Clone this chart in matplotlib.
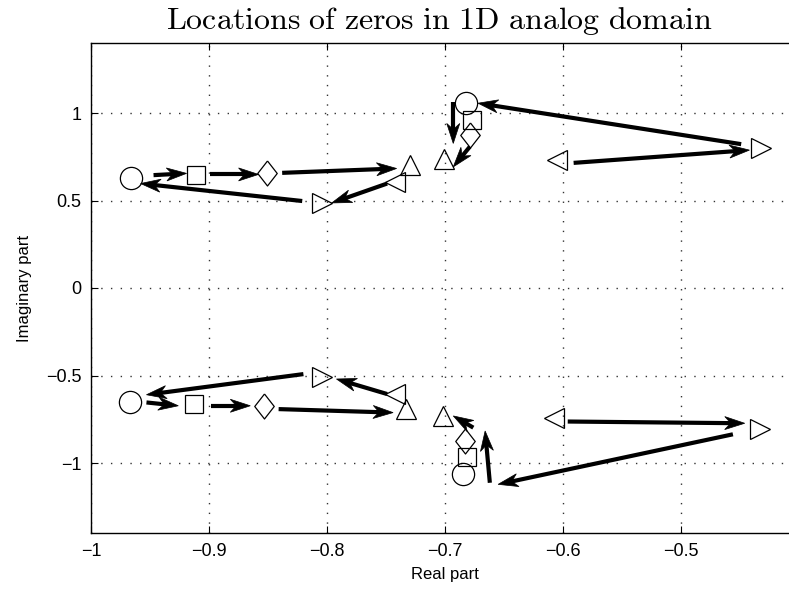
import matplotlib
matplotlib.use("Agg")
import matplotlib.pyplot as plt
import numpy as np
from matplotlib.patches import Polygon

plt.rcParams['font.family'] = ['Liberation Sans', 'DejaVu Sans']
plt.rcParams['mathtext.fontset'] = 'cm'

# ---- data: zero locations (real, imag) ----
shapes = ['o', 's', 'D', '^', '<', '>']
# upper half, group A
upA_re = [-0.966, -0.911, -0.851, -0.730, -0.742, -0.804]
upA_im = [0.626, 0.645, 0.658, 0.702, 0.603, 0.486]
# upper half, group B
upB_re = [-0.682, -0.677, -0.679, -0.701, -0.605, -0.432]
upB_im = [1.056, 0.960, 0.874, 0.735, 0.729, 0.800]
# lower half, group A
loA_re = [-0.967, -0.913, -0.853, -0.733, -0.742, -0.804]
loA_im = [-0.649, -0.664, -0.673, -0.692, -0.606, -0.507]
# lower half, group B
loB_re = [-0.685, -0.681, -0.683, -0.702, -0.608, -0.433]
loB_im = [-1.065, -0.966, -0.874, -0.731, -0.740, -0.807]

# arrows: start (x0, y0) -> tip (x1, y1)
arrows_x0 = [-0.947, -0.899, -0.838, -0.749, -0.821, -0.591, -0.449, -0.693, -0.679,
             -0.820, -0.953, -0.898, -0.841, -0.749, -0.676, -0.662, -0.456, -0.596]
arrows_y0 = [0.645, 0.649, 0.658, 0.597, 0.497, 0.715, 0.822, 1.065, 0.807,
             -0.492, -0.654, -0.673, -0.692, -0.606, -0.798, -1.113, -0.836, -0.763]
arrows_x1 = [-0.919, -0.858, -0.741, -0.796, -0.958, -0.442, -0.672, -0.693, -0.693,
             -0.953, -0.926, -0.865, -0.744, -0.792, -0.693, -0.666, -0.655, -0.446]
arrows_y1 = [0.655, 0.649, 0.683, 0.486, 0.597, 0.788, 1.056, 0.826, 0.692,
             -0.610, -0.673, -0.673, -0.712, -0.520, -0.731, -0.817, -1.122, -0.773]

xticks = [-1, -0.9, -0.8, -0.7, -0.6, -0.5]
xticklabels = ['\u22121', '\u22120.9', '\u22120.8', '\u22120.7', '\u22120.6', '\u22120.5']
yticks = [-1, -0.5, 0, 0.5, 1]
yticklabels = ['\u22121', '\u22120.5', '0', '0.5', '1']

fig = plt.figure(figsize=(7.89, 5.90), dpi=100)
ax = fig.add_axes([91/789, 1-533/590, (799-91)/789, (533-43)/590])
ax.set_xlim(-1, -0.4)
ax.set_ylim(-1.4, 1.4)

sizes = {'o': 16, 's': 12.5, '^': 15, '<': 15, '>': 15}
diamond = [(0, 1), (0.78, 0), (0, -1), (-0.78, 0), (0, 1)]

for re_list, im_list in [(upA_re, upA_im), (upB_re, upB_im), (loA_re, loA_im), (loB_re, loB_im)]:
    for m, xr, yi in zip(shapes, re_list, im_list):
        mk = diamond if m == 'D' else m
        ms = 18 if m == 'D' else sizes[m]
        ax.plot([xr], [yi], linestyle='none', marker=mk, markersize=ms,
                markerfacecolor='none', markeredgecolor='black', markeredgewidth=0.9, zorder=3)

# stealth-style arrows, head geometry in pixels
HEAD_L, HEAD_W, NOTCH = 20.0, 6.5, 6.0
inv = ax.transData.inverted()
for x0, y0, x1, y1 in zip(arrows_x0, arrows_y0, arrows_x1, arrows_y1):
    p0 = ax.transData.transform((x0, y0))
    p1 = ax.transData.transform((x1, y1))
    d = p1 - p0
    u = d / np.hypot(*d)
    n = np.array([-u[1], u[0]])
    back = p1 - HEAD_L * u
    notch = p1 - (HEAD_L - NOTCH) * u
    head_px = np.array([p1, back + HEAD_W * n, notch, back - HEAD_W * n])
    head = inv.transform(head_px)
    shaft_end = inv.transform(notch + 1.0 * u)
    ax.plot([x0, shaft_end[0]], [y0, shaft_end[1]], color='black', lw=3.0,
            solid_capstyle='butt', zorder=4)
    ax.add_patch(Polygon(head, closed=True, facecolor='black', edgecolor='black',
                         lw=0.5, zorder=4))

ax.set_xticks(xticks)
ax.set_xticklabels(xticklabels)
ax.set_yticks(yticks)
ax.set_yticklabels(yticklabels)
ax.tick_params(direction='in', length=5, width=0.8, top=True, right=True,
               labelsize=13, pad=7)
ax.grid(True, color='#333333', linestyle=(0, (1, 6)), linewidth=1.0)
for s in ax.spines.values():
    s.set_linewidth(1.0)

ax.set_xlabel('Real part', fontsize=12, labelpad=5)
ax.set_ylabel('Imaginary part', fontsize=12, labelpad=10)
fig.text((91 + 787) / 2 / 789, 1 - 29 / 590,
         r'$\mathrm{Locations\ of\ zeros\ in\ 1D\ analog\ domain}$',
         fontsize=23, ha='center', va='baseline')

fig.savefig('out.png', dpi=100)
